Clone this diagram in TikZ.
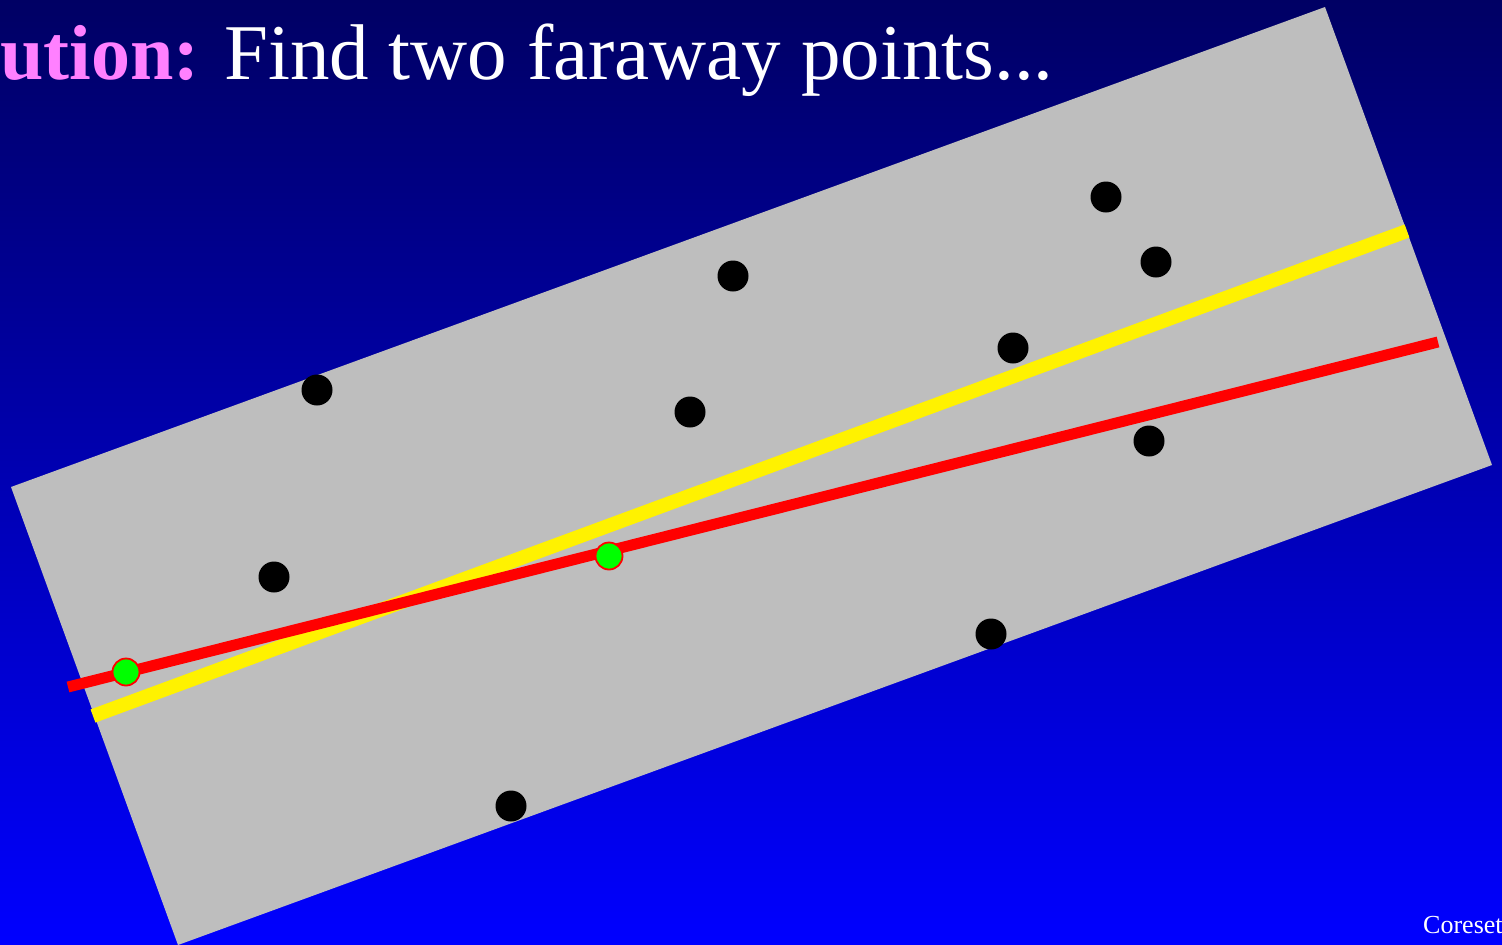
\documentclass[tikz,border=0pt]{standalone}
\usepackage{fontspec}
\setmainfont{Liberation Serif}
\begin{document}
\begin{tikzpicture}[x=1pt,y=-1pt,
  pt/.style={circle,fill=black,draw=none,minimum size=31pt,inner sep=0pt},
  gpt/.style={circle,fill=green,draw=red,line width=1.8pt,minimum size=27pt,inner sep=0pt},
  yline/.style={yellow,line width=14pt},
  rline/.style={red,line width=11pt}]
\useasboundingbox (0,0) rectangle (1502,945);
\clip (0,0) rectangle (1502,945);
\shade[top color={rgb,255:red,0;green,0;blue,100}, bottom color={rgb,255:red,0;green,0;blue,255}] (0,0) rectangle (1502,945);
\fill[color={rgb,255:red,190;green,190;blue,190}] (11,487) -- (1325,7) -- (1492,465) -- (178,945) -- cycle;
\node[anchor=base west,inner sep=0pt,text={rgb,255:red,255;green,128;blue,255},font=\fontsize{78}{90}\selectfont\bfseries] (sol) at (0,79) {ution:};
\node[anchor=base west,inner sep=0pt,text=white,font=\fontsize{79}{90}\selectfont] (title) at (224,79) {Find two faraway points...};
\node[anchor=base west,inner sep=0pt,text=white,font=\fontsize{26}{30}\selectfont] (foot) at (1423,933) {Coreset};
\node[pt] (p1) at (317,390) {};
\node[pt] (p2) at (274,577) {};
\node[pt] (p3) at (733,276) {};
\node[pt] (p4) at (690,412) {};
\node[pt] (p5) at (1106,197) {};
\node[pt] (p6) at (1156,262) {};
\node[pt] (p7) at (1013,348) {};
\node[pt] (p8) at (1149,441) {};
\node[pt] (p9) at (991,634) {};
\node[pt] (p10) at (511,806) {};
\coordinate (y1) at (93,716);
\coordinate (y2) at (1407,231);
\coordinate (r1) at (68,687);
\coordinate (r2) at (1438,342);
\draw[yline] (y1) -- (y2);
\draw[rline] (r1) -- (r2);
\node[gpt] (g1) at (126,672) {};
\node[gpt] (g2) at (609,556) {};
\end{tikzpicture}
\end{document}
